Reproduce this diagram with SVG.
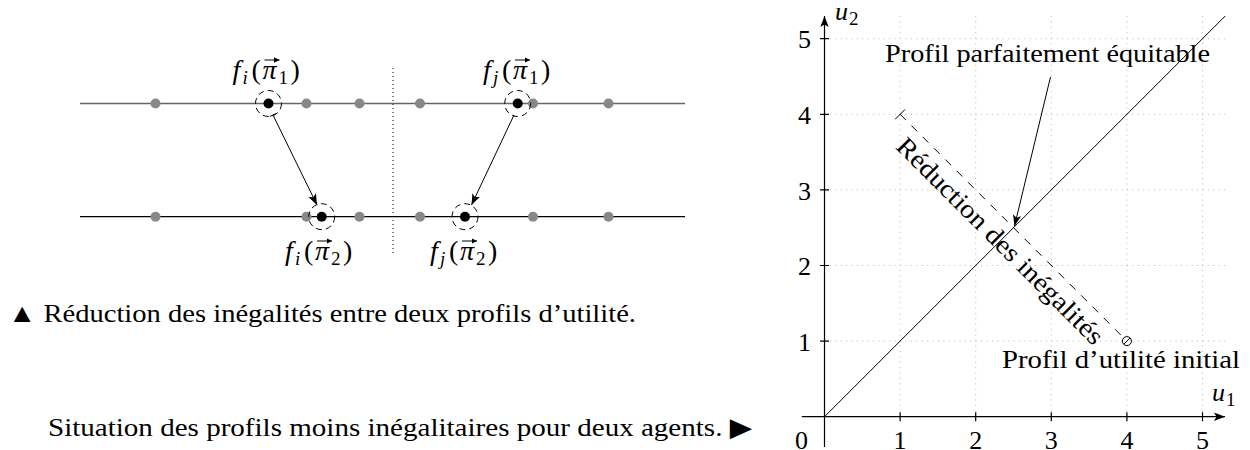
<svg xmlns="http://www.w3.org/2000/svg" width="1250" height="450" viewBox="0 0 1250 450" font-family="'Liberation Serif','DejaVu Serif',serif">
<style>
text{font-family:"Liberation Serif","DejaVu Serif","Times New Roman",serif;fill:#000}
.it{font-style:italic}
.lab{font-size:28px}
.sub{font-size:19px}
.grid{stroke:#bdbdbd;stroke-width:1;stroke-dasharray:1.1 4.3;fill:none}
.ln{stroke:#000;stroke-width:1;fill:none}
.gdot{fill:#888}
.bdot{fill:#000}
.dc{fill:none;stroke:#000;stroke-width:1;stroke-dasharray:6 4}
.vec{stroke:#000;stroke-width:1;fill:none}
.num{font-size:26px}
.cap{font-size:26px}
</style>
<defs>
<marker id="ah" markerUnits="userSpaceOnUse" markerWidth="12" markerHeight="10" viewBox="0 0 12 10" refX="11" refY="5" orient="auto">
<path d="M0,0.8 L11,5 L0,9.2 L2.5,5 z" fill="#000"/>
</marker>
<marker id="vh" markerUnits="userSpaceOnUse" markerWidth="6" markerHeight="6" viewBox="0 0 6 6" refX="5.5" refY="3" orient="auto">
<path d="M0,0.3 L5.5,3 L0,5.7 z" fill="#000"/>
</marker>
</defs>

<!-- Left diagram -->
<g id="lines">
<line x1="80" y1="103.5" x2="685" y2="103.5" stroke="#666" stroke-width="1.3"/>
<line x1="80" y1="216.7" x2="685" y2="216.7" stroke="#000" stroke-width="1.3"/>
<line x1="393" y1="68" x2="393" y2="255" stroke="#000" stroke-width="1" stroke-dasharray="1 3"/>
</g>
<g id="top-dots">
<circle class="gdot" cx="155.5" cy="103.5" r="5"/>
<circle class="gdot" cx="306.5" cy="103.5" r="5"/>
<circle class="gdot" cx="359.5" cy="103.5" r="5"/>
<circle class="gdot" cx="420" cy="103.5" r="5"/>
<circle class="gdot" cx="533" cy="103.5" r="5"/>
<circle class="gdot" cx="608.5" cy="103.5" r="5"/>
</g>
<g id="bottom-dots">
<circle class="gdot" cx="155.5" cy="216.7" r="5"/>
<circle class="gdot" cx="306.5" cy="216.7" r="5"/>
<circle class="gdot" cx="359.5" cy="216.7" r="5"/>
<circle class="gdot" cx="420" cy="216.7" r="5"/>
<circle class="gdot" cx="533" cy="216.7" r="5"/>
<circle class="gdot" cx="608.5" cy="216.7" r="5"/>
</g>
<g id="fi1">
<circle class="bdot" cx="268.5" cy="103.5" r="5"/>
<circle class="dc" cx="268.5" cy="103.5" r="13"/>
<g transform="translate(267.5,79)">
<text class="lab"><tspan class="it" x="-35">f</tspan><tspan class="it sub" x="-25" dy="5">i</tspan><tspan x="-16" dy="-5">(</tspan><tspan class="it" x="-5">π</tspan><tspan class="sub" x="11" dy="5">1</tspan><tspan x="23" dy="-5">)</tspan></text>
<line class="vec" x1="-3" y1="-19" x2="12" y2="-19" marker-end="url(#vh)"/>
</g>
</g>
<g id="fj1">
<circle class="bdot" cx="517.7" cy="103.5" r="5"/>
<circle class="dc" cx="517.7" cy="103.5" r="13"/>
<g transform="translate(518,79)">
<text class="lab"><tspan class="it" x="-35">f</tspan><tspan class="it sub" x="-25" dy="5">j</tspan><tspan x="-16" dy="-5">(</tspan><tspan class="it" x="-5">π</tspan><tspan class="sub" x="11" dy="5">1</tspan><tspan x="23" dy="-5">)</tspan></text>
<line class="vec" x1="-3" y1="-19" x2="12" y2="-19" marker-end="url(#vh)"/>
</g>
</g>
<g id="fi2">
<circle class="bdot" cx="321.7" cy="216.7" r="5"/>
<circle class="dc" cx="321.7" cy="216.7" r="13"/>
<g transform="translate(320,260)">
<text class="lab"><tspan class="it" x="-35">f</tspan><tspan class="it sub" x="-25" dy="5">i</tspan><tspan x="-16" dy="-5">(</tspan><tspan class="it" x="-5">π</tspan><tspan class="sub" x="11" dy="5">2</tspan><tspan x="23" dy="-5">)</tspan></text>
<line class="vec" x1="-3" y1="-19" x2="12" y2="-19" marker-end="url(#vh)"/>
</g>
</g>
<g id="fj2">
<circle class="bdot" cx="465" cy="216.7" r="5"/>
<circle class="dc" cx="465" cy="216.7" r="13"/>
<g transform="translate(465,260)">
<text class="lab"><tspan class="it" x="-35">f</tspan><tspan class="it sub" x="-25" dy="5">j</tspan><tspan x="-16" dy="-5">(</tspan><tspan class="it" x="-5">π</tspan><tspan class="sub" x="11" dy="5">2</tspan><tspan x="23" dy="-5">)</tspan></text>
<line class="vec" x1="-3" y1="-19" x2="12" y2="-19" marker-end="url(#vh)"/>
</g>
</g>
<g id="left-arrows">
<line class="ln" x1="273" y1="115" x2="317" y2="205" marker-end="url(#ah)"/>
<line class="ln" x1="269.9" y1="116.5" x2="276.1" y2="113.5"/>
<line class="ln" x1="514" y1="115" x2="471.5" y2="205" marker-end="url(#ah)"/>
</g>

<g id="captions">
<text class="cap" x="8" y="322" textLength="628" lengthAdjust="spacingAndGlyphs">▲ Réduction des inégalités entre deux profils d’utilité.</text>
<text class="cap" x="48" y="436" textLength="704" lengthAdjust="spacingAndGlyphs">Situation des profils moins inégalitaires pour deux agents. ▶</text>
</g>

<!-- Right plot -->
<g id="grid">
<path class="grid" d="M900.1,416.7V16 M975.7,416.7V16 M1051.3,416.7V16 M1126.9,416.7V16 M1202.5,416.7V16 M824.5,341.1H1225.2 M824.5,265.5H1225.2 M824.5,189.9H1225.2 M824.5,114.3H1225.2 M824.5,38.7H1225.2"/>
</g>
<g id="axes">
<line x1="801.8" y1="416.7" x2="1225" y2="416.7" stroke="#000" stroke-width="1.2" marker-end="url(#ah)"/>
<line x1="824.5" y1="447" x2="824.5" y2="16" stroke="#000" stroke-width="1.2" marker-end="url(#ah)"/>
<path d="M900.1,412.2V421.2 M975.7,412.2V421.2 M1051.3,412.2V421.2 M1126.9,412.2V421.2 M1202.5,412.2V421.2 M820,341.1H829 M820,265.5H829 M820,189.9H829 M820,114.3H829 M820,38.7H829" stroke="#000" stroke-width="1.2"/>
<text class="num" x="801.5" y="448.5" text-anchor="middle">0</text>
<text class="num" x="900.1" y="448.5" text-anchor="middle">1</text>
<text class="num" x="975.7" y="448.5" text-anchor="middle">2</text>
<text class="num" x="1051.3" y="448.5" text-anchor="middle">3</text>
<text class="num" x="1126.9" y="448.5" text-anchor="middle">4</text>
<text class="num" x="1202.5" y="448.5" text-anchor="middle">5</text>
<text class="num" x="811" y="350.8" text-anchor="end">1</text>
<text class="num" x="811" y="275.2" text-anchor="end">2</text>
<text class="num" x="811" y="199.6" text-anchor="end">3</text>
<text class="num" x="811" y="124" text-anchor="end">4</text>
<text class="num" x="811" y="48.4" text-anchor="end">5</text>
<text class="num"><tspan class="it" x="835" y="20">u</tspan><tspan class="sub" x="849" y="25">2</tspan></text>
<text class="num"><tspan class="it" x="1212" y="401">u</tspan><tspan class="sub" x="1226" y="406">1</tspan></text>
</g>
<g id="diagonal">
<line class="ln" x1="824.5" y1="416.7" x2="1225.2" y2="16"/>
</g>
<g id="reduction">
<line x1="900.1" y1="114.3" x2="1126.9" y2="341.1" stroke="#000" stroke-width="1" stroke-dasharray="8 8"/>
<line class="ln" x1="895.1" y1="119.3" x2="905.1" y2="109.3"/>
<text class="num" transform="translate(994,247) rotate(45)" text-anchor="middle" textLength="281" lengthAdjust="spacingAndGlyphs">Réduction des inégalités</text>
</g>
<g id="initial">
<circle cx="1126.9" cy="341.1" r="4.5" fill="#fff" stroke="#000" stroke-width="1"/>
<line class="ln" x1="1123.7" y1="344.3" x2="1130.1" y2="337.9"/>
<text class="num" x="1002" y="368" textLength="238" lengthAdjust="spacingAndGlyphs">Profil d’utilité initial</text>
</g>
<g id="equitable">
<text class="num" x="885" y="62" textLength="325" lengthAdjust="spacingAndGlyphs">Profil parfaitement équitable</text>
<line class="ln" x1="1050.5" y1="77" x2="1014.5" y2="226" marker-end="url(#ah)"/>
</g>
</svg>
